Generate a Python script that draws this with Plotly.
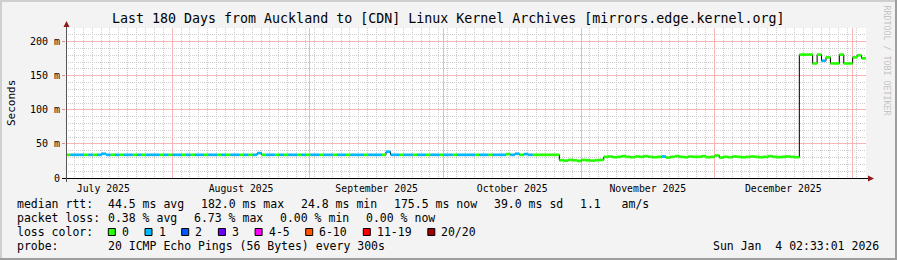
import plotly.graph_objects as go
import pandas as pd

# ---------------- data ----------------
START = pd.Timestamp("2025-07-08 02:33:01")
END = pd.Timestamp("2026-01-04 02:33:01")

# daily median rtt (ms)
median_ms = [
    34, 34, 34, 34, 34, 34, 34, 34, 35.5, 34,
    34, 34, 34, 34, 34, 34, 34, 34, 34, 34,
    34, 34, 34, 34, 34, 34, 34, 34, 34, 34,
    34, 34, 34, 34, 34, 34, 34, 34, 34, 34,
    34, 34, 34, 36.5, 34, 34, 34, 34, 34, 34,
    34, 34, 34, 34, 34, 34, 34, 34, 34, 34,
    34, 34, 34, 34, 34, 34, 34, 34, 34, 34,
    34, 34, 38.5, 34, 34, 34, 34, 34, 34, 34,
    34, 34, 34, 34, 34, 34, 34, 34, 34, 34,
    34, 34, 34, 34, 34, 34, 34, 34, 34, 35,
    34, 35.5, 34, 35, 34, 34, 34, 34, 34, 34,
    34,
    26, 25.5, 26.5, 26, 25, 26.5, 26, 25.5, 26, 26.5,
    31, 31.5, 30.5, 31, 32, 31, 30.5, 31.5, 31, 32,
    31, 30.5, 31, 31.5, 30, 31, 32, 31, 30.5, 31.5,
    31, 31, 32, 30.5, 31, 33, 30, 31, 30.5, 31.5,
    31, 30.5, 31, 31.5, 31, 30.5, 31, 32, 31, 30.5,
    31, 31.5, 31, 30.5,
    181, 181, 181, 168, 181, 172, 177, 168, 168, 181,
    168, 168, 177, 180, 175.5,
]

# daily loss bucket index (0 -> "0", 1 -> "1", ...)
loss_bucket = [
    0, 1, 1, 1, 0, 1, 0, 1, 1, 1,
    0, 1, 0, 1, 1, 0, 1, 0, 1, 1,
    1, 0, 1, 0, 1, 1, 0, 1, 0, 1,
    1, 0, 1, 1, 0, 1, 0, 1, 1, 0,
    1, 0, 1, 1, 0, 1, 1, 0, 1, 0,
    1, 1, 0, 1, 0, 1, 1, 0, 1, 1,
    0, 1, 1, 0, 1, 1, 1, 0, 1, 1,
    1, 0, 1, 1, 1, 0, 1, 1, 0, 1,
    1, 0, 1, 1, 0, 1, 1, 0, 1, 1,
    1, 1, 0, 1, 1, 0, 1, 1, 1, 0,
    1, 1, 0, 1, 1, 0, 0, 0, 0, 0,
    0, 0, 0, 0, 0, 0, 0, 0, 0, 0,
    0, 0, 0, 0, 0, 0, 0, 0, 0, 0,
    0, 0, 0, 0, 1, 0, 0, 0, 0, 0,
    0, 0, 0, 0, 0, 0, 0, 0, 0, 0,
    0, 0, 0, 0, 0, 0, 0, 0, 0, 0,
    0, 0, 0, 0, 0, 0, 0, 0, 0, 0,
    1, 0, 0, 0, 0, 0, 0, 0, 0, 0,
]

loss_labels = ["0", "1", "2", "3", "4-5", "6-10", "11-19", "20/20"]
loss_colors = ["#26ff00", "#00b8ff", "#0059ff", "#6e00ff", "#ff00ff",
               "#ff5500", "#ff0000", "#a10000"]

ytick_ms = [0, 50, 100, 150, 200]
ytick_text = ["0", "50 m", "100 m", "150 m", "200 m"]

title = "Last 180 Days from Auckland to [CDN] Linux Kernel Archives [mirrors.edge.kernel.org]"
stats_rtt = ["median rtt:", "44.5 ms avg", "182.0 ms max", "24.8 ms min",
             "175.5 ms now", "39.0 ms sd", "1.1   am/s"]
stats_loss = ["packet loss:", "0.38 % avg", "6.73 % max", "0.00 % min", "0.00 % now"]
probe_text = ["probe:", "20 ICMP Echo Pings (56 Bytes) every 300s"]
stamp = "Sun Jan  4 02:33:01 2026"

# ---------------- layout helpers ----------------
W, H = 897, 260
L, R, T, B = 66, 866, 28, 178


def px(x):
    return (x - L) / (R - L)


def py(y):
    return (B - y) / (B - T)


def nb(s):
    return s.replace(" ", "\u00a0")


MONO = "DejaVu Sans Mono"

# ---------------- traces ----------------
n = len(median_ms)
edges = [START + pd.Timedelta(days=d) for d in range(n)] + [END]
med_s = [v / 1000.0 for v in median_ms]

fig = go.Figure()

# thin black "smoke"/connector line
fig.add_trace(go.Scatter(
    x=edges, y=med_s + [med_s[-1]], mode="lines",
    line=dict(color="#000000", width=1, shape="hv"),
    hoverinfo="skip", showlegend=False))

# median colored by loss
for b, col in enumerate(loss_colors):
    xs, ys = [], []
    for i in range(n):
        if loss_bucket[i] == b:
            xs += [edges[i], edges[i + 1], None]
            ys += [med_s[i], med_s[i], None]
    if xs:
        fig.add_trace(go.Scatter(
            x=xs, y=ys, mode="lines",
            line=dict(color=col, width=2.7),
            hoverinfo="skip", showlegend=False))

# ---------------- axes ----------------
MAJOR = "#f6b6b6"
MINOR = "#cdcdcd"
fig.update_xaxes(
    type="date", range=[START, END],
    showline=False, zeroline=False,
    showgrid=True, gridcolor=MAJOR, gridwidth=1,
    dtick="M1", tick0="2025-07-01", tickformat="%B %Y",
    ticklabelmode="period", ticks="",
    tickfont=dict(family=MONO, size=9.8, color="#000"),
    ticklabelstandoff=3,
    minor=dict(dtick=2 * 86400000, tick0="2025-08-01", showgrid=True,
               gridcolor=MINOR, griddash="1px,1px", gridwidth=1, ticks=""),
    fixedrange=True,
)
fig.update_yaxes(
    range=[0, 0.22], showline=False, zeroline=False,
    tickvals=[v / 1000.0 for v in ytick_ms], ticktext=ytick_text,
    showgrid=True, gridcolor=MAJOR, gridwidth=1,
    ticks="outside", ticklen=3, tickcolor="#e08a8a",
    tickfont=dict(family=MONO, size=10, color="#000"),
    minor=dict(dtick=0.01, tick0=0, showgrid=True,
               gridcolor=MINOR, griddash="1px,1px", gridwidth=1),
    fixedrange=True,
)

# ---------------- decorations ----------------
shapes = []
# 3D border
shapes.append(dict(type="rect", xref="paper", yref="paper", x0=px(0), x1=px(W), y0=py(0), y1=py(2),
                   fillcolor="#cfcfcf", line=dict(width=0), layer="above"))
shapes.append(dict(type="rect", xref="paper", yref="paper", x0=px(0), x1=px(2), y0=py(0), y1=py(H),
                   fillcolor="#cfcfcf", line=dict(width=0), layer="above"))
shapes.append(dict(type="rect", xref="paper", yref="paper", x0=px(0), x1=px(W), y0=py(H - 2), y1=py(H),
                   fillcolor="#9e9e9e", line=dict(width=0), layer="above"))
shapes.append(dict(type="rect", xref="paper", yref="paper", x0=px(W - 2), x1=px(W), y0=py(0), y1=py(H),
                   fillcolor="#9e9e9e", line=dict(width=0), layer="above"))
# axis lines
shapes.append(dict(type="line", xref="paper", yref="paper", x0=px(62), x1=px(869), y0=py(178.5), y1=py(178.5),
                   line=dict(color="#000000", width=1), layer="above"))
shapes.append(dict(type="line", xref="paper", yref="paper", x0=px(66.5), x1=px(66.5), y0=py(182), y1=py(24),
                   line=dict(color="#555555", width=1), layer="above"))
# arrows
shapes.append(dict(type="path", xref="paper", yref="paper",
                   path="M %f %f L %f %f L %f %f Z" % (px(63.5), py(27), px(69.5), py(27), px(66.5), py(21)),
                   fillcolor="#8e1a1a", line=dict(width=0), layer="above"))
shapes.append(dict(type="path", xref="paper", yref="paper",
                   path="M %f %f L %f %f L %f %f Z" % (px(868), py(175.5), px(868), py(181.5), px(874), py(178.5)),
                   fillcolor="#8e1a1a", line=dict(width=0), layer="above"))

# loss color boxes
box_x = [108.3, 145, 181.7, 218.4, 255.1, 305.7, 363.3, 427.8]
for bx, col in zip(box_x, loss_colors):
    shapes.append(dict(type="rect", xref="paper", yref="paper",
                       x0=px(bx), x1=px(bx + 7), y0=py(235.5), y1=py(228.5),
                       fillcolor=col, line=dict(color="#000000", width=1), layer="above"))

ann = []


def text(x, y, s, size=11.5, anchor="left", color="#000", angle=0, yanchor="middle"):
    ann.append(dict(xref="paper", yref="paper", x=px(x), y=py(y), text=nb(s),
                    showarrow=False, xanchor=anchor, yanchor=yanchor, borderpad=0,
                    textangle=angle, font=dict(family=MONO, size=size, color=color)))


text(448, 18.5, title, size=13.3, anchor="center")
text(11, 103, "Seconds", size=11, anchor="center", angle=-90)
text(886.5, 60, "RRDTOOL / TOBI OETIKER", size=8.3, anchor="center", color="#c4c4c4", angle=90)

rtt_x = [16, 107, 200, 300, 393.3, 493.3, 579.3]
for x, s in zip(rtt_x, stats_rtt):
    text(x, 204, s)
loss_x = [16, 107, 193.3, 279.3, 365.3]
for x, s in zip(loss_x, stats_loss):
    text(x, 218.3, s)
text(16, 232.3, "loss color:")
for bx, lab in zip(box_x, loss_labels):
    text(bx + 12.5, 232.3, lab)
text(16, 246.3, probe_text[0])
text(107, 246.3, probe_text[1])
text(880, 246.3, stamp, anchor="right")

fig.update_layout(
    width=W, height=H,
    margin=dict(l=L, r=W - R, t=T, b=H - B, pad=0),
    paper_bgcolor="#f3f3f3", plot_bgcolor="#ffffff",
    showlegend=False, shapes=shapes, annotations=ann,
    hovermode=False,
)

fig.write_html("out.html", config={"displayModeBar": False, "staticPlot": True})
